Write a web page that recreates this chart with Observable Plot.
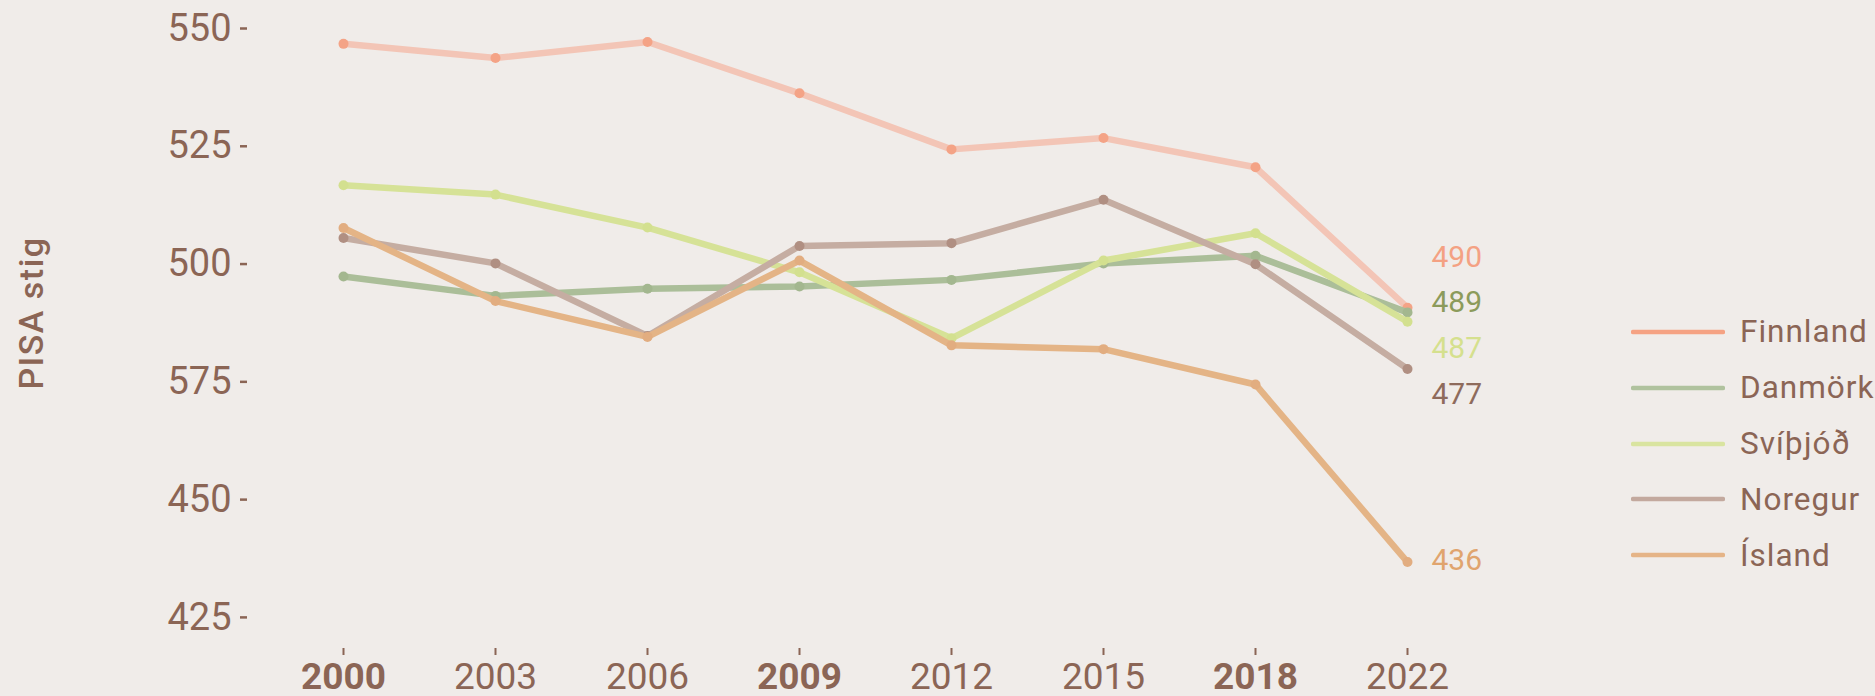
<!DOCTYPE html>
<html>
<head>
<meta charset="utf-8">
<script src="https://cdn.jsdelivr.net/npm/d3@7"></script>
<script src="https://cdn.jsdelivr.net/npm/@observablehq/plot@0.6"></script>
<style>
  html, body { margin: 0; padding: 0; background: #f0ece9; }
  #wrap { position: relative; width: 1875px; height: 696px; font-family: Roboto, sans-serif; color: #8b6555; overflow: hidden; }
  #ylabel { position: absolute; left: 31px; top: 313px; transform: translate(-50%, -50%) rotate(-90deg); font-size: 34px; font-weight: 500; letter-spacing: 1.5px; white-space: nowrap; }
  .lrow { position: absolute; left: 1631px; height: 40px; display: flex; align-items: center; }
  .lrow span { margin-left: 15px; font-size: 31.5px; letter-spacing: 1px; white-space: nowrap; }
  #chart svg { position: absolute; left: 0; top: 0; overflow: visible; }
</style>
</head>
<body>
<div id="wrap">
  <div id="chart"></div>
  <div id="ylabel">PISA stig</div>
</div>
<script>
// ---- data ----
const years = [2000, 2003, 2006, 2009, 2012, 2015, 2018, 2022];
const boldYears = [2000, 2009, 2018];
const countries = ["Finnland", "Danmörk", "Svíþjóð", "Noregur", "Ísland"];
const finnland = [546, 543, 546.4, 535.5, 523.6, 526, 519.8, 490];
const danmork  = [496.6, 492.5, 494, 494.5, 495.9, 499.4, 501, 489];
const svithjod = [516, 514, 507, 497.5, 483.5, 500, 505.8, 487];
const noregur  = [504.8, 499.4, 484, 503.1, 503.7, 512.9, 499.2, 477];
const island   = [506.9, 491.4, 483.8, 500, 482, 481.2, 473.7, 436];
const yTicks = [425, 450, 475, 500, 525, 550];
const yTickLabels = ["425", "450", "575", "500", "525", "550"];
const yTitle = "PISA stig";

// ---- styles ----
const lineColors   = ["#f3c5b6", "#abbe99", "#d6e297", "#c5ada2", "#e4b486"];
const dotColors    = ["#f4a386", "#a3b78f", "#d3e08f", "#b08f82", "#e2ad80"];
const labelColors  = ["#f4a183", "#8c9b5b", "#d5e08e", "#8e6b5c", "#e0a46e"];
const legendColors = ["#f5a283", "#b0c29e", "#d9e4a0", "#c3a99e", "#e5b487"];
const textColor = "#8b6555";

const seriesValues = [finnland, danmork, svithjod, noregur, island];
const series = countries.map((name, k) => ({
  name, k,
  rows: years.map((year, i) => ({ country: name, year, value: seriesValues[k][i] }))
}));

// end labels, dodged apart vertically (in value units)
const lastYear = years[years.length - 1];
const ends = series.map(s => ({ k: s.k, year: lastYear, value: s.rows[s.rows.length - 1].value }));
const order = ends.slice().sort((a, b) => b.value - a.value);
order.forEach(e => e.pos = e.value);
const gap = 9.7;
for (let it = 0; it < 300; it++) {
  for (let i = 1; i < order.length; i++) {
    const d = order[i - 1].pos - order[i].pos;
    if (d < gap) { const sh = (gap - d) / 2; order[i - 1].pos += sh; order[i].pos -= sh; }
  }
}

const marks = [];
series.forEach(s => {
  marks.push(Plot.line(s.rows, { x: "year", y: "value", stroke: lineColors[s.k], strokeWidth: 6.5, strokeLinejoin: "round", strokeLinecap: "round" }));
  marks.push(Plot.dot(s.rows, { x: "year", y: "value", r: 5, fill: dotColors[s.k], stroke: null }));
});
ends.forEach(e => {
  marks.push(Plot.text([e], { x: "year", y: "pos", text: d => String(Math.round(d.value)), fill: labelColors[e.k], textAnchor: "start", dx: 24, dy: -2, fontSize: 30 }));
});
marks.push(Plot.axisY({ ticks: yTicks, tickFormat: d => yTickLabels[yTicks.indexOf(d)], tickSize: 7, tickPadding: 9, fontSize: 38, color: textColor, strokeWidth: 2.5, dy: 3.5, label: null }));
marks.push(Plot.axisX({ ticks: boldYears, tickFormat: d => String(d), tickSize: 7, tickPadding: 7, fontSize: 37, fontWeight: "bold", color: textColor, strokeWidth: 2, label: null }));
marks.push(Plot.axisX({ ticks: years.filter(y => !boldYears.includes(y)), tickFormat: d => String(d), tickSize: 7, tickPadding: 7, fontSize: 37, color: textColor, strokeWidth: 2, label: null }));

const chart = Plot.plot({
  width: 1875,
  height: 696,
  marginLeft: 247,
  marginRight: 455,
  marginTop: 10,
  marginBottom: 48,
  x: { type: "point", domain: years, range: [340, 1409.5], padding: 0 },
  y: { domain: [425, 550], range: [613.4, 24.5] },
  style: { background: "transparent", fontFamily: "Roboto, sans-serif", color: textColor },
  marks
});
document.getElementById("chart").appendChild(chart);
document.getElementById("ylabel").textContent = yTitle;

// legend
const wrap = document.getElementById("wrap");
const legendY = [331.7, 387.6, 443.5, 499.4, 555.3];
countries.forEach((name, k) => {
  const row = document.createElement("div");
  row.className = "lrow";
  row.style.top = (legendY[k] - 20) + "px";
  row.innerHTML = `<svg width="94" height="40"><line x1="2" y1="20" x2="92" y2="20" stroke="${legendColors[k]}" stroke-width="4.5" stroke-linecap="round"/></svg><span>${name}</span>`;
  wrap.appendChild(row);
});
</script>
</body>
</html>
